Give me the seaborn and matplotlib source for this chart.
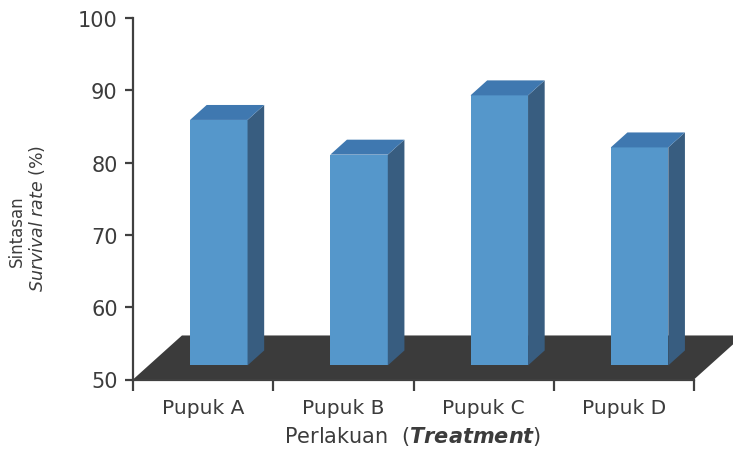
import numpy as np
import pandas as pd
import matplotlib
matplotlib.use('Agg')
import matplotlib.pyplot as plt
from matplotlib.patches import Polygon
import seaborn as sns

# data (front top of each column)
perlakuan = ['Pupuk A', 'Pupuk B', 'Pupuk C', 'Pupuk D']
sintasan = [85.9, 81.1, 89.3, 82.1]
y_ticks = [50, 60, 70, 80, 90, 100]

df = pd.DataFrame({'perlakuan': perlakuan, 'sintasan': sintasan})

sns.set_style('white')
plt.rcParams['font.family'] = ['DejaVu Sans']
plt.rcParams['mathtext.fontset'] = 'custom'
plt.rcParams['mathtext.it'] = 'DejaVu Sans:italic'
plt.rcParams['mathtext.bf'] = 'DejaVu Sans:italic:bold'
plt.rcParams['mathtext.rm'] = 'DejaVu Sans'

W, H = 733, 456
fig = plt.figure(figsize=(W / 100, H / 100), dpi=100)
ax = fig.add_axes([133 / W, (H - 380.5) / H, (694 - 133) / W, (380.5 - 19) / H])

front_c = '#5597cb'
top_c = '#3f78b0'
side_c = '#385d80'
floor_c = '#3b3b3b'
axis_c = '#404040'
text_c = '#3c3c3c'

sns.barplot(data=df, x='perlakuan', y='sintasan', color=front_c,
            width=0.41, saturation=1, ax=ax, zorder=3)

ax.set_xlim(-0.5, 3.5)
ax.set_ylim(50, 100)

# oblique depth direction: one full floor depth in data units
ddx, ddy = 0.349, 6.09
t0, t1 = 0.32, 0.66

# floor
x0, x1 = -0.5, 3.5
floor = Polygon([(x0, 50), (x1, 50), (x1 + ddx, 50 + ddy), (x0 + ddx, 50 + ddy)],
                closed=True, facecolor=floor_c, edgecolor='none', clip_on=False, zorder=1)
ax.add_patch(floor)

base = 50 + t0 * ddy
bdx, bdy = (t1 - t0) * ddx, (t1 - t0) * ddy
for p, v in zip(ax.patches[:len(sintasan)], sintasan):
    p.set_x(p.get_x() + t0 * ddx)
    p.set_y(base)
    p.set_height(v - base)
    p.set_edgecolor('none')
    xa = p.get_x()
    xb = xa + p.get_width()
    side = Polygon([(xb, base), (xb, v), (xb + bdx, v + bdy), (xb + bdx, base + bdy)],
                   closed=True, facecolor=side_c, edgecolor='none', zorder=3, clip_on=False)
    top = Polygon([(xa, v), (xb, v), (xb + bdx, v + bdy), (xa + bdx, v + bdy)],
                  closed=True, facecolor=top_c, edgecolor='none', zorder=3, clip_on=False)
    ax.add_patch(side)
    ax.add_patch(top)

# axes styling
for s in ['top', 'right']:
    ax.spines[s].set_visible(False)
for s in ['left', 'bottom']:
    ax.spines[s].set_color(axis_c)
    ax.spines[s].set_linewidth(1.6)
    ax.spines[s].set_zorder(5)
ax.set_yticks(y_ticks)
ax.set_yticklabels([str(t) for t in y_ticks])
ax.set_xticks([-0.5, 0.5, 1.5, 2.5, 3.5], minor=False)
ax.set_xticklabels([])
ax.set_xticks([0, 1, 2, 3], minor=True)
ax.set_xticklabels(perlakuan, minor=True)
ax.tick_params(axis='x', which='major', direction='out', length=8, width=1.6,
               color=axis_c, bottom=True)
ax.tick_params(axis='x', which='minor', length=0, pad=13, labelsize=14.5,
               labelcolor=text_c)
ax.tick_params(axis='y', direction='out', length=6, width=1.6, color=axis_c,
               left=True, labelsize=15, labelcolor=text_c, pad=5)
ax.set_xlabel('')
ax.set_ylabel('')

fig.text(413 / W, 1 - 437 / H, r'Perlakuan  ($\mathbf{Treatment}$)', ha='center',
         va='center', fontsize=15, color=text_c)
fig.text(17 / W, 1 - 231 / H, 'Sintasan', rotation=90, ha='center', va='center',
         fontsize=12, color=text_c)
fig.text(37 / W, 1 - 218 / H, r'$\mathit{Survival\ rate}$ (%)', rotation=90,
         ha='center', va='center', fontsize=12.5, color=text_c)

fig.savefig('out.png', dpi=100)
